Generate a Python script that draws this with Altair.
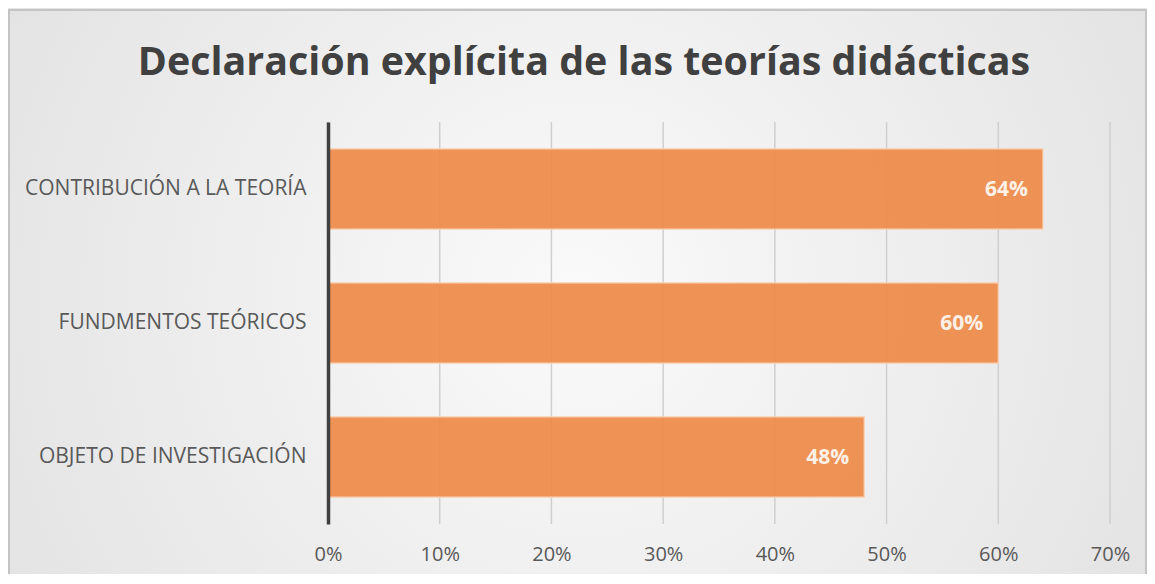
import altair as alt
import pandas as pd

categories = ["CONTRIBUCIÓN A LA TEORÍA", "FUNDMENTOS TEÓRICOS", "OBJETO DE INVESTIGACIÓN"]
values = [0.64, 0.60, 0.48]
labels = ["64%", "60%", "48%"]
x_ticks = [0, 0.1, 0.2, 0.3, 0.4, 0.5, 0.6, 0.7]
title_text = "Declaración explícita de las teorías didácticas"

df = pd.DataFrame({"cat": categories, "val": values, "lab": labels})
ticks_df = pd.DataFrame({"val": x_ticks})

W, H = 782, 402
PL, PT, PR, PB = 320, 114, 37, 50
FONT = "Open Sans"

bg = alt.Chart(alt.Data(values=[{"a": 1}])).mark_rect(
    color=alt.Gradient(
        gradient="radial",
        stops=[alt.GradientStop(offset=0, color="#fafafa"),
               alt.GradientStop(offset=1, color="#dcdcdc")],
        x1=0.5, y1=0.5, x2=0.5, y2=0.5, r1=0, r2=0.75,
    ),
    stroke="#c4c4c4", strokeWidth=2,
).encode(
    x=alt.value(-PL + 1), x2=alt.value(W + PR - 1),
    y=alt.value(-PT + 2), y2=alt.value(H + PB + 10),
)

title = alt.Chart(alt.Data(values=[{"s": title_text}])).mark_text(
    font=FONT, fontSize=39.4, fontWeight="bold", color="#404040",
    align="center", baseline="alphabetic",
).encode(x=alt.value(256), y=alt.value(-47), text="s:N")

xenc = alt.X("val:Q", title=None,
             scale=alt.Scale(domain=[0, 0.7], nice=False),
             axis=alt.Axis(values=x_ticks, format=".0%", labelFont=FONT,
                           labelFontSize=20, labelColor="#595959", labelPadding=20,
                           labelFlush=False, ticks=False, domain=False, grid=False,
                           zindex=1))

grid = alt.Chart(ticks_df).mark_rule(color="#cfcfcf", strokeWidth=1.5).encode(
    x=xenc, y=alt.value(0), y2=alt.value(H),
)

yenc = alt.Y("cat:N", sort=categories, title=None,
             scale=alt.Scale(paddingInner=0.4, paddingOuter=0.2),
             axis=alt.Axis(labelFont=FONT, labelFontSize=21, labelColor="#595959",
                           labelPadding=22, ticks=False, domainColor="#404040",
                           domainWidth=3.5, grid=False, labelLimit=400, zindex=1))

bars = alt.Chart(df).mark_bar(color="#ee8b4a", opacity=0.93, stroke="#fbd3b4",
                              strokeWidth=1.2).encode(x=xenc, y=yenc)

text = alt.Chart(df).mark_text(align="right", baseline="middle", dx=-15, dy=1,
                               font=FONT, fontSize=21, fontWeight="bold",
                               color="#fdf1e7").encode(
    x="val:Q", y=alt.Y("cat:N", sort=categories), text="lab:N")

chart = alt.layer(bg, title, grid, bars, text).properties(
    width=W, height=H,
    autosize=alt.AutoSizeParams(type="none"),
    padding={"left": PL, "top": PT, "right": PR, "bottom": PB},
).configure_view(stroke=None).configure(background="#e6e6e6")

chart.save("out.html", embed_options={"renderer": "svg", "actions": False})
